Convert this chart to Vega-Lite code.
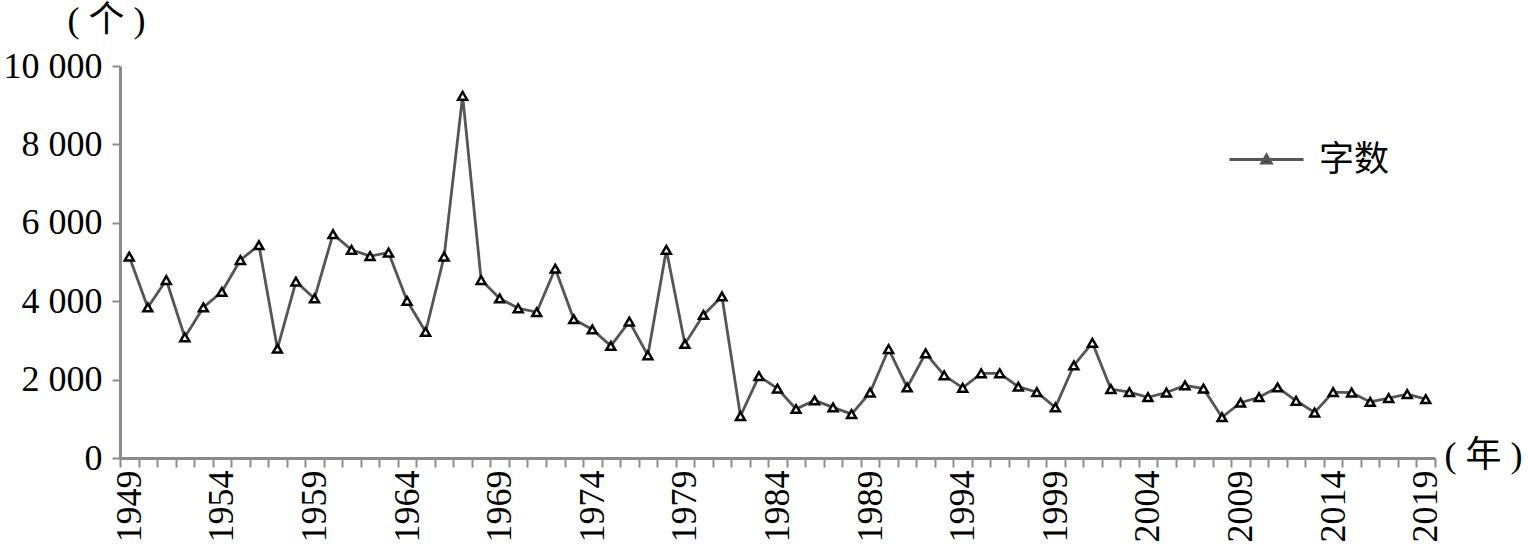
{
  "$schema": "https://vega.github.io/schema/vega-lite/v6.json",
  "autosize": "none",
  "width": 1315,
  "height": 392,
  "padding": {"left": 120, "top": 66, "right": 93, "bottom": 100},
  "background": "white",
  "config": {
    "view": {"stroke": null},
    "font": "Liberation Serif"
  },
  "data": {
    "values": [
      {"year": 1949, "count": 5140}, {"year": 1950, "count": 3840}, {"year": 1951, "count": 4540},
      {"year": 1952, "count": 3080}, {"year": 1953, "count": 3840}, {"year": 1954, "count": 4240},
      {"year": 1955, "count": 5050}, {"year": 1956, "count": 5430}, {"year": 1957, "count": 2790},
      {"year": 1958, "count": 4500}, {"year": 1959, "count": 4070}, {"year": 1960, "count": 5710},
      {"year": 1961, "count": 5310}, {"year": 1962, "count": 5150}, {"year": 1963, "count": 5240},
      {"year": 1964, "count": 4010}, {"year": 1965, "count": 3220}, {"year": 1966, "count": 5140},
      {"year": 1967, "count": 9240}, {"year": 1968, "count": 4540}, {"year": 1969, "count": 4070},
      {"year": 1970, "count": 3820}, {"year": 1971, "count": 3720}, {"year": 1972, "count": 4830},
      {"year": 1973, "count": 3540}, {"year": 1974, "count": 3280}, {"year": 1975, "count": 2860},
      {"year": 1976, "count": 3480}, {"year": 1977, "count": 2620}, {"year": 1978, "count": 5310},
      {"year": 1979, "count": 2910}, {"year": 1980, "count": 3650}, {"year": 1981, "count": 4120},
      {"year": 1982, "count": 1070}, {"year": 1983, "count": 2090}, {"year": 1984, "count": 1770},
      {"year": 1985, "count": 1250}, {"year": 1986, "count": 1470}, {"year": 1987, "count": 1290},
      {"year": 1988, "count": 1120}, {"year": 1989, "count": 1670}, {"year": 1990, "count": 2780},
      {"year": 1991, "count": 1800}, {"year": 1992, "count": 2670}, {"year": 1993, "count": 2110},
      {"year": 1994, "count": 1790}, {"year": 1995, "count": 2160}, {"year": 1996, "count": 2160},
      {"year": 1997, "count": 1820}, {"year": 1998, "count": 1680}, {"year": 1999, "count": 1290},
      {"year": 2000, "count": 2360}, {"year": 2001, "count": 2940}, {"year": 2002, "count": 1760},
      {"year": 2003, "count": 1680}, {"year": 2004, "count": 1550}, {"year": 2005, "count": 1670},
      {"year": 2006, "count": 1850}, {"year": 2007, "count": 1770}, {"year": 2008, "count": 1040},
      {"year": 2009, "count": 1410}, {"year": 2010, "count": 1550}, {"year": 2011, "count": 1800},
      {"year": 2012, "count": 1460}, {"year": 2013, "count": 1160}, {"year": 2014, "count": 1680},
      {"year": 2015, "count": 1670}, {"year": 2016, "count": 1430}, {"year": 2017, "count": 1530},
      {"year": 2018, "count": 1630}, {"year": 2019, "count": 1500}
    ]
  },
  "encoding": {
    "x": {
      "field": "year",
      "type": "ordinal",
      "bandPosition": 0.5,
      "scale": {"type": "band", "paddingInner": 0, "paddingOuter": 0},
      "axis": {
        "title": "( 年 )",
        "titleFont": "'Liberation Serif', 'Noto Sans CJK SC'",
        "titleFontSize": 36,
        "titleFontWeight": "normal",
        "titleColor": "black",
        "titleAngle": 0,
        "titleAlign": "center",
        "titleBaseline": "middle",
        "titleX": 1363,
        "titleY": -3,
        "tickBand": "extent",
        "domainColor": "#8a8a8a",
        "domainWidth": 3,
        "tickColor": "#8a8a8a",
        "tickWidth": 2,
        "tickSize": 9,
        "labelAngle": -90,
        "labelAlign": "right",
        "labelBaseline": "middle",
        "labelFontSize": 36,
        "labelColor": "black",
        "labelPadding": 3,
        "labelOverlap": false,
        "labelExpr": "(datum.value - 1949) % 5 == 0 ? datum.label : ''",
        "grid": false
      }
    },
    "y": {
      "field": "count",
      "type": "quantitative",
      "scale": {"domain": [0, 10000], "nice": false, "zero": true},
      "axis": {
        "values": [0, 2000, 4000, 6000, 8000, 10000],
        "labelExpr": "replace(format(datum.value, ','), ',', ' ')",
        "title": "( 个 )",
        "titleFont": "'Liberation Serif', 'Noto Sans CJK SC'",
        "titleFontSize": 36,
        "titleFontWeight": "normal",
        "titleColor": "black",
        "titleAngle": 0,
        "titleAlign": "center",
        "titleBaseline": "middle",
        "titleX": -14,
        "titleY": -46,
        "domainColor": "#8a8a8a",
        "domainWidth": 3,
        "tickColor": "#8a8a8a",
        "tickWidth": 2,
        "tickSize": 8,
        "labelFontSize": 36,
        "labelColor": "black",
        "labelPadding": 10,
        "grid": false
      }
    }
  },
  "layer": [
    {
      "mark": {"type": "line", "strokeWidth": 2.8},
      "encoding": {
        "color": {
          "datum": "字数",
          "scale": {"range": ["#555555"]},
          "legend": {
            "title": null,
            "orient": "none",
            "legendX": 1108,
            "legendY": 55,
            "symbolType": "M-1,0L1,0M0,-0.12L0.13,0.1L-0.13,0.1Z",
            "symbolSize": 5476,
            "symbolStrokeWidth": 2.8,
            "symbolFillColor": "#222222",
            "labelFont": "Noto Sans CJK SC",
            "labelFontSize": 35,
            "labelColor": "black",
            "labelOffset": 14,
            "padding": 0
          }
        }
      }
    },
    {
      "mark": {"type": "point", "shape": "triangle-up", "size": 80, "filled": false, "fill": "white", "stroke": "black", "strokeWidth": 2.5, "opacity": 1}
    }
  ]
}
